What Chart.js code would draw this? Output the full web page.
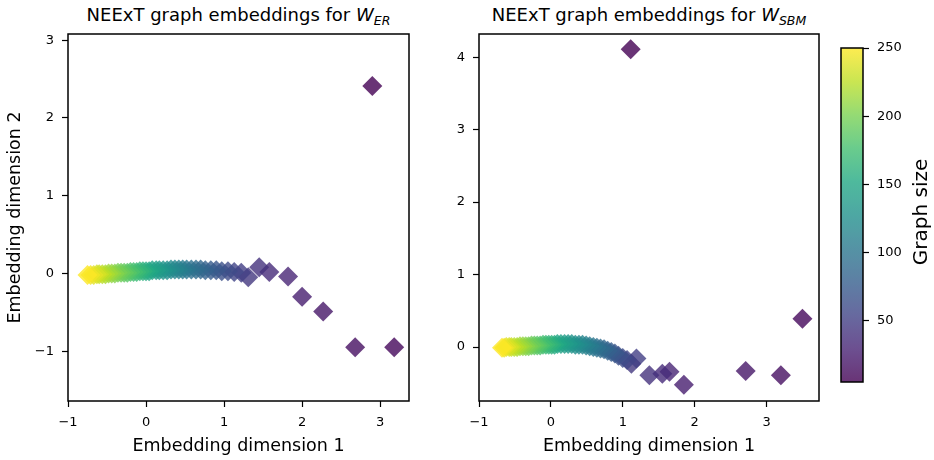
<!DOCTYPE html>
<html>
<head>
<meta charset="utf-8">
<script src="https://cdn.jsdelivr.net/npm/chart.js@4.4.0/dist/chart.umd.min.js"></script>
<style>
  body { margin: 0; background: #fff; width: 934px; height: 460px; position: relative; overflow: hidden; font-family: "DejaVu Sans", sans-serif; color: #000; }
  canvas { position: absolute; top: 0; }
  .title { position: absolute; top: 6px; height: 24px; font-size: 18px; line-height: 18px; text-align: center; white-space: nowrap; }
  .title i { font-style: italic; }
  .title .sub { font-size: 12.5px; font-style: italic; position: relative; top: 4px; }
  .cblabel { position: absolute; left: 820px; top: 200px; width: 200px; height: 24px; line-height: 24px; font-size: 20px; text-align: center; transform: rotate(-90deg); white-space: nowrap; }
</style>
</head>
<body>
<div class="title" style="left:68px;width:341px;">NEExT graph embeddings for <i>W</i><span class="sub">ER</span></div>
<div class="title" style="left:479px;width:340px;">NEExT graph embeddings for <i>W</i><span class="sub">SBM</span></div>
<canvas id="er" width="420" height="460" style="left:0px"></canvas>
<canvas id="sbm" width="420" height="460" style="left:420px"></canvas>
<canvas id="cbar" width="104" height="460" style="left:830px"></canvas>
<div class="cblabel">Graph size</div>
<script>
// Graph sizes (node counts) of the embedded graphs
const graphSizes = [5, 10, 15, 20, 25, 30, 35, 40, 45, 50,
  55, 60, 65, 70, 75, 80, 85, 90, 95, 100,
  105, 110, 115, 120, 125, 130, 135, 140, 145, 150,
  155, 160, 165, 170, 175, 180, 185, 190, 195, 200,
  205, 210, 215, 220, 225, 230, 235, 240, 245, 250];

// Embeddings of graphs sampled from W_ER
const erX = [2.90, 3.18, 2.68, 2.27, 2.00, 1.82, 1.58, 1.45, 1.31, 1.22,
  1.13, 1.05, 0.97, 0.90, 0.83, 0.76, 0.70, 0.64, 0.58, 0.52,
  0.47, 0.42, 0.37, 0.32, 0.27, 0.22, 0.17, 0.13, 0.08, 0.04,
  0.00, -0.04, -0.08, -0.12, -0.16, -0.20, -0.24, -0.28, -0.32, -0.36,
  -0.40, -0.44, -0.48, -0.52, -0.56, -0.60, -0.63, -0.67, -0.71, -0.75];
const erY = [2.41, -0.95, -0.95, -0.49, -0.30, -0.04, 0.02, 0.08, -0.05, 0.01,
  0.02, 0.03, 0.03, 0.04, 0.04, 0.04, 0.05, 0.05, 0.05, 0.05,
  0.05, 0.05, 0.05, 0.05, 0.04, 0.04, 0.04, 0.04, 0.04, 0.03,
  0.03, 0.03, 0.03, 0.02, 0.02, 0.02, 0.01, 0.01, 0.01, 0.01,
  0.00, 0.00, 0.00, -0.01, -0.01, -0.01, -0.01, -0.02, -0.02, -0.02];

// Embeddings of graphs sampled from W_SBM
const sbmX = [1.11, 3.50, 3.20, 2.71, 1.85, 1.65, 1.55, 1.37, 1.12, 1.19,
  1.06, 1.00, 0.94, 0.89, 0.84, 0.79, 0.74, 0.69, 0.64, 0.59,
  0.54, 0.49, 0.44, 0.39, 0.34, 0.29, 0.24, 0.19, 0.14, 0.09,
  0.05, 0.01, -0.03, -0.07, -0.11, -0.15, -0.19, -0.23, -0.27, -0.31,
  -0.35, -0.39, -0.43, -0.47, -0.51, -0.55, -0.58, -0.62, -0.65, -0.68];
const sbmY = [4.11, 0.39, -0.39, -0.33, -0.52, -0.34, -0.37, -0.39, -0.23, -0.16,
  -0.18, -0.15, -0.12, -0.09, -0.07, -0.05, -0.03, -0.02, -0.01, 0.00,
  0.01, 0.02, 0.03, 0.03, 0.03, 0.04, 0.04, 0.04, 0.04, 0.04,
  0.03, 0.03, 0.03, 0.03, 0.03, 0.02, 0.02, 0.02, 0.02, 0.01,
  0.01, 0.01, 0.01, 0.00, 0.00, 0.00, 0.00, 0.00, -0.01, -0.01];

// Tick positions
const erXTicks = [-1, 0, 1, 2, 3];
const erYTicks = [-1, 0, 1, 2, 3];
const sbmXTicks = [-1, 0, 1, 2, 3];
const sbmYTicks = [0, 1, 2, 3, 4];
const sizeTicks = [50, 100, 150, 200, 250];

// Axis limits
const erXRange = [-1.0, 3.37];
const erYRange = [-1.64, 3.08];
const sbmXRange = [-1.0, 3.73];
const sbmYRange = [-0.745, 4.32];
const sizeRange = [5, 250];

const FONT = 'DejaVu Sans';
const ALPHA = 0.8;

// viridis colormap anchors
const VIRIDIS = [
  [68, 1, 84], [72, 36, 117], [65, 68, 135], [53, 95, 141], [42, 120, 142],
  [33, 145, 140], [34, 168, 132], [68, 191, 112], [122, 209, 81], [189, 223, 38], [253, 231, 37]
];
function viridis(t, a) {
  t = Math.min(1, Math.max(0, t));
  const p = t * (VIRIDIS.length - 1);
  const i = Math.min(VIRIDIS.length - 2, Math.floor(p));
  const f = p - i;
  const c = VIRIDIS[i].map((v, k) => Math.round(v + (VIRIDIS[i + 1][k] - v) * f));
  return `rgba(${c[0]},${c[1]},${c[2]},${a})`;
}
const sizeColor = n => viridis((n - sizeRange[0]) / (sizeRange[1] - sizeRange[0]), ALPHA);

const minusSign = v => String(v).replace('-', '\u2212');

function axis(tickValues, range, extra) {
  return Object.assign({
    type: 'linear',
    min: range[0],
    max: range[1],
    afterBuildTicks: s => { s.ticks = tickValues.map(v => ({ value: v })); },
    grid: { drawOnChartArea: false, drawTicks: true, tickLength: 6, tickWidth: 1.2, tickColor: '#000' },
    border: { display: false },
    ticks: { color: '#000', font: { family: FONT, size: 13 }, padding: 8, maxRotation: 0, autoSkip: false, callback: minusSign }
  }, extra);
}

// box around the plotting area
const framePlugin = {
  id: 'frame',
  afterDraw(chart) {
    const { ctx, chartArea: a } = chart;
    ctx.save();
    ctx.strokeStyle = '#000';
    ctx.lineWidth = 1.5;
    ctx.strokeRect(a.left, a.top, a.right - a.left, a.bottom - a.top);
    ctx.restore();
  }
};

function scatterChart(id, xs, ys, xTicks, yTicks, xRange, yRange, yAxisWidth, padRight, yTitle) {
  const points = xs.map((x, i) => ({ x, y: ys[i] }));
  const yExtra = { afterFit: s => { s.width = yAxisWidth; } };
  if (yTitle) {
    yExtra.title = { display: true, text: yTitle, color: '#000', font: { family: FONT, size: 17.5 }, padding: { top: 4.5, bottom: 0 } };
  }
  return new Chart(document.getElementById(id), {
    type: 'scatter',
    data: {
      datasets: [{
        data: points,
        pointStyle: 'rectRot',
        pointRadius: 10,
        pointHoverRadius: 10,
        pointBorderWidth: 0,
        pointBackgroundColor: graphSizes.map(sizeColor)
      }]
    },
    options: {
      responsive: false,
      animation: false,
      devicePixelRatio: 1,
      layout: { padding: { top: 34, right: padRight, left: 0, bottom: 0 } },
      plugins: { legend: { display: false }, tooltip: { enabled: false } },
      scales: {
        x: axis(xTicks, xRange, {
          afterFit: s => { s.height = 59; },
          title: { display: true, text: 'Embedding dimension 1', color: '#000', font: { family: FONT, size: 17.5 }, padding: { top: 0, bottom: 3 } }
        }),
        y: axis(yTicks, yRange, yExtra)
      }
    },
    plugins: [framePlugin]
  });
}

scatterChart('er', erX, erY, erXTicks, erYTicks, erXRange, erYRange, 68, 11, 'Embedding dimension 2');
scatterChart('sbm', sbmX, sbmY, sbmXTicks, sbmYTicks, sbmXRange, sbmYRange, 59, 21, null);

// colour bar for graph size
const gradientPlugin = {
  id: 'gradient',
  beforeDatasetsDraw(chart) {
    const { ctx, chartArea: a } = chart;
    const g = ctx.createLinearGradient(0, a.bottom, 0, a.top);
    for (let k = 0; k <= 40; k++) g.addColorStop(k / 40, viridis(k / 40, ALPHA));
    ctx.save();
    ctx.fillStyle = g;
    ctx.fillRect(a.left, a.top, a.right - a.left, a.bottom - a.top);
    ctx.restore();
  }
};

new Chart(document.getElementById('cbar'), {
  type: 'scatter',
  data: { datasets: [{ data: [] }] },
  options: {
    responsive: false,
    animation: false,
    devicePixelRatio: 1,
    layout: { padding: { top: 48, bottom: 78, left: 11, right: 0 } },
    plugins: { legend: { display: false }, tooltip: { enabled: false } },
    scales: {
      x: { display: false, min: 0, max: 1 },
      y: axis(sizeTicks, sizeRange, { position: 'right', afterFit: s => { s.width = 71; } })
    }
  },
  plugins: [gradientPlugin, framePlugin]
});
</script>
</body>
</html>
